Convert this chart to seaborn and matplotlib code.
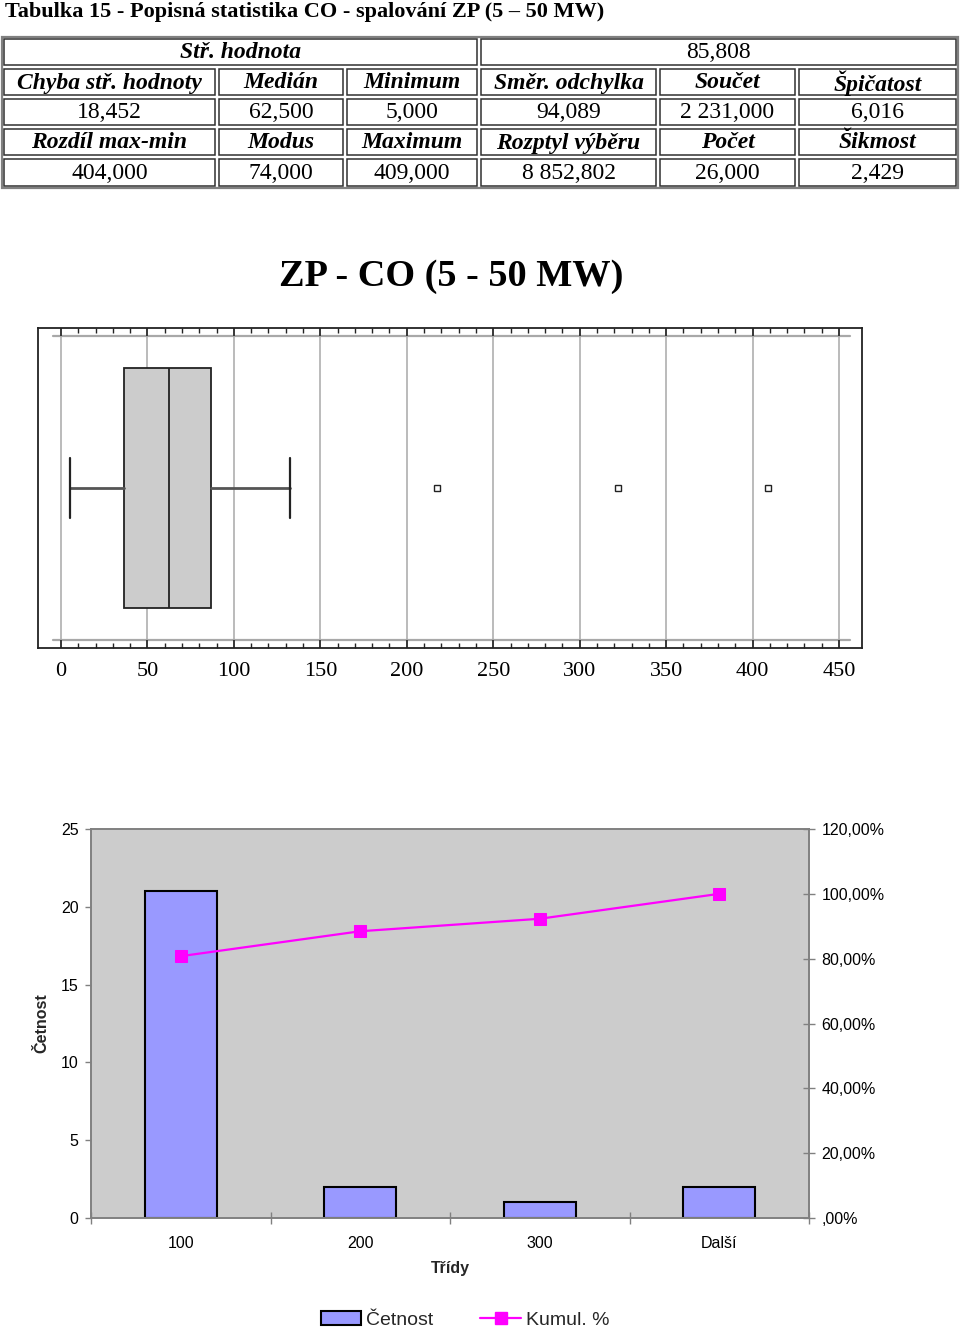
import numpy as np
import matplotlib
matplotlib.use("Agg")
import matplotlib.pyplot as plt
import seaborn as sns
from matplotlib.patches import Rectangle
from matplotlib.lines import Line2D
from matplotlib.ticker import FuncFormatter, MultipleLocator, FixedLocator

# ---------------- data ----------------
title_text = "Tabulka 15 - Popisná statistika CO - spalování ZP (5 – 50 MW)"
mean_label = "Stř. hodnota"
mean_value = "85,808"
header_row1 = ["Chyba stř. hodnoty", "Medián", "Minimum", "Směr. odchylka", "Součet", "Špičatost"]
value_row1 = ["18,452", "62,500", "5,000", "94,089", "2 231,000", "6,016"]
header_row2 = ["Rozdíl max-min", "Modus", "Maximum", "Rozptyl výběru", "Počet", "Šikmost"]
value_row2 = ["404,000", "74,000", "409,000", "8 852,802", "26,000", "2,429"]

box_title = "ZP - CO (5 - 50 MW)"
box_min = 5.0
box_q1 = 36.5
box_median = 62.5
box_q3 = 86.5
box_whisker_high = 132.5
box_outliers = [217.5, 322.0, 409.0]
box_ticks = [0, 50, 100, 150, 200, 250, 300, 350, 400, 450]

hist_classes = ["100", "200", "300", "Další"]
hist_counts = [21, 2, 1, 2]
hist_cumul = [80.77, 88.46, 92.31, 100.0]
left_ticks = [0, 5, 10, 15, 20, 25]
right_ticks = [0, 20, 40, 60, 80, 100, 120]

# ---------------- style ----------------
sns.set_theme(style="white")
SERIF = ["Liberation Serif", "DejaVu Serif"]
SANS = ["Liberation Sans", "DejaVu Sans"]
plt.rcParams["font.family"] = SANS

W, H = 960, 1334
fig = plt.figure(figsize=(W / 100, H / 100), dpi=100)
fig.patch.set_facecolor("white")


def fx(px):
    return px / W


def fy(py):
    return 1 - py / H


# ---------------- table (background axes in pixel units) ----------------
bg = fig.add_axes([0, 0, 1, 1])
bg.set_xlim(0, W)
bg.set_ylim(H, 0)
bg.axis("off")

bg.text(5, 12, title_text, family=SERIF, fontsize=16, fontweight="bold",
        ha="left", va="center", color="black")

col_edges = [2, 217, 345, 479, 658, 797, 958]
row_edges = [37, 67, 97, 127, 157, 188]

bg.add_patch(Rectangle((col_edges[0], row_edges[0]), col_edges[-1] - col_edges[0],
                       row_edges[-1] - row_edges[0], fill=False, edgecolor="#808080", lw=1.6))


def cell(x0, x1, y0, y1, txt, head):
    ins = 2.2
    bg.add_patch(Rectangle((x0 + ins, y0 + ins), x1 - x0 - 2 * ins, y1 - y0 - 2 * ins,
                           fill=False, edgecolor="#303030", lw=1.1))
    bg.text((x0 + x1) / 2, (y0 + y1) / 2 + 1, txt, family=SERIF, fontsize=17,
            fontstyle="italic" if head else "normal",
            fontweight="bold" if head else "normal",
            ha="center", va="center", color="black")


cell(col_edges[0], col_edges[3], row_edges[0], row_edges[1], mean_label, True)
cell(col_edges[3], col_edges[6], row_edges[0], row_edges[1], mean_value, False)
for r, (row, head) in enumerate([(header_row1, True), (value_row1, False),
                                  (header_row2, True), (value_row2, False)]):
    for c, txt in enumerate(row):
        cell(col_edges[c], col_edges[c + 1], row_edges[r + 1], row_edges[r + 2], txt, head)

# ---------------- box plot ----------------
bg.text(451, 277, box_title, family=SERIF, fontsize=27.5, fontweight="bold",
        ha="center", va="center", color="black")

axb = fig.add_axes([fx(38), fy(648), fx(862) - fx(38), fy(328) - fy(648)])
axb.set_facecolor("white")
stats = [dict(whislo=box_min, q1=box_q1, med=box_median, q3=box_q3,
              whishi=box_whisker_high, fliers=box_outliers, label="")]
axb.bxp(stats, positions=[0], widths=0.75, orientation="horizontal",
        patch_artist=True, capwidths=0.19,
        boxprops=dict(facecolor="#CCCCCC", edgecolor="#222222", lw=1.3),
        medianprops=dict(color="#222222", lw=1.3),
        whiskerprops=dict(color="#555555", lw=2.0),
        capprops=dict(color="#222222", lw=1.6),
        flierprops=dict(marker="s", markersize=5, markerfacecolor="white",
                        markeredgecolor="#222222", markeredgewidth=1.0))
axb.set_xlim(-13.3, 463.3)
axb.set_ylim(-0.5, 0.5)
axb.set_yticks([])
axb.xaxis.set_major_locator(FixedLocator(box_ticks))
axb.xaxis.set_minor_locator(FixedLocator(np.arange(box_ticks[0], box_ticks[-1] + 1, 10)))
axb.set_xticklabels([str(t) for t in box_ticks], family=SERIF, fontsize=16)
axb.tick_params(axis="x", which="major", direction="in", length=6, width=1.2,
                top=True, bottom=True, pad=10, colors="#222222", labelcolor="black")
axb.tick_params(axis="x", which="minor", direction="in", length=3.5, width=1.0,
                top=True, bottom=True, colors="#222222")
axb.grid(axis="x", which="major", color="#A8A8A8", lw=1.1)
axb.set_axisbelow(True)
for y in (0.475, -0.475):
    axb.axhline(y, xmin=0.018, xmax=0.985, color="#A8A8A8", lw=1.6, zorder=0.5)
for s in axb.spines.values():
    s.set_color("#222222")
    s.set_linewidth(1.3)

# ---------------- histogram ----------------
axh = fig.add_axes([fx(91), fy(1218), fx(809) - fx(91), fy(829) - fy(1218)])
axh.set_facecolor("#CCCCCC")
sns.barplot(x=hist_classes, y=hist_counts, ax=axh, color="#9999FF", saturation=1,
            width=0.4, edgecolor="black", linewidth=1.5)
axh.set_xlim(-0.5, len(hist_classes) - 0.5)
axh.set_ylim(0, 25)
axh.set_yticks(left_ticks)
axh.set_yticklabels([str(t) for t in left_ticks], fontsize=11.5)
axh.xaxis.set_major_locator(FixedLocator(np.arange(-0.5, len(hist_classes), 1.0)))
axh.xaxis.set_minor_locator(FixedLocator(np.arange(len(hist_classes))))
axh.set_xticklabels([])
axh.xaxis.set_minor_formatter(FuncFormatter(lambda v, p: hist_classes[int(round(v))]))
axh.tick_params(axis="x", which="major", direction="inout", length=9, width=1,
                colors="#808080", bottom=True)
axh.tick_params(axis="x", which="minor", length=0, pad=13, labelsize=11.5,
                labelcolor="black")
axh.tick_params(axis="y", direction="out", length=4, width=1, colors="#808080",
                labelcolor="black", left=True, pad=5)
axh.set_xlabel("Třídy", fontsize=11.5, fontweight="bold")
axh.xaxis.set_label_coords(0.5, -0.11)
axh.set_ylabel("Četnost", fontsize=11.5, fontweight="bold")
axh.yaxis.set_label_coords(-0.058, 0.5)
for s in axh.spines.values():
    s.set_color("#808080")
    s.set_linewidth(1.2)

ax2 = axh.twinx()
sns.lineplot(x=np.arange(len(hist_classes)), y=hist_cumul, ax=ax2, color="#FF00FF",
             marker="s", markersize=8, markeredgecolor="#FF00FF", lw=1.6)
ax2.set_ylim(0, 120)
ax2.set_yticks(right_ticks)


def pct(v, p):
    s = f"{v:.2f}%".replace(".", ",")
    return s[1:] if s.startswith("0,") else s


ax2.yaxis.set_major_formatter(FuncFormatter(pct))
ax2.tick_params(axis="y", direction="inout", length=8, width=1, colors="#808080",
                labelcolor="black", labelsize=11.5, right=True, pad=5)
ax2.set_ylabel("")
for s in ax2.spines.values():
    s.set_color("#808080")
    s.set_linewidth(1.2)

handles = [Rectangle((0, 0), 1, 1, facecolor="#9999FF", edgecolor="black", lw=1.5),
           Line2D([0], [0], color="#FF00FF", marker="s", markersize=8, lw=1.6)]
fig.legend(handles, ["Četnost", "Kumul. %"], loc="center",
           bbox_to_anchor=(fx(465), fy(1320)), ncol=2, frameon=False, fontsize=14,
           handlelength=2.1, handletextpad=0.25, columnspacing=2.4)

fig.savefig("out.png", dpi=100, facecolor="white")
